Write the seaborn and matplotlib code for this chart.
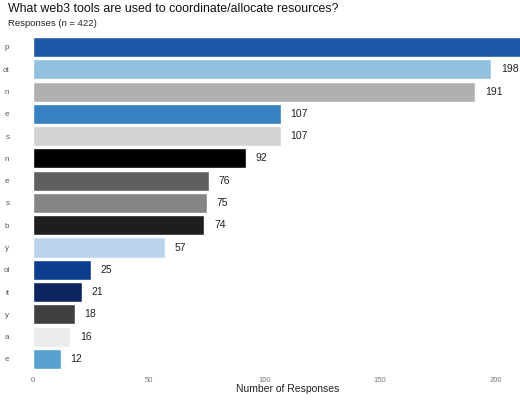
import numpy as np
import pandas as pd
import matplotlib
matplotlib.use("Agg")
import matplotlib.pyplot as plt
import seaborn as sns

# Tool labels are cut off at the left edge in the source chart; only the tail is visible
tools = ["p", "ot", "n", "e", "s", "n", "e", "s", "b", "y", "ol", "it", "y", "a", "e"]
responses = [225, 198, 191, 107, 107, 92, 76, 75, 74, 57, 25, 21, 18, 16, 12]
bar_colors = ["#1c58a5", "#92c0df", "#b0b0b0", "#3781c1", "#d2d2d2", "#000000",
              "#5f5f5f", "#858585", "#1e1e1e", "#bcd3ec", "#0d3e8e", "#0c2460",
              "#404040", "#ebebeb", "#58a0cf"]

# truncated names repeat, so each row gets its own key
df = pd.DataFrame({"row": [str(i) for i in range(len(tools))], "count": responses})

sns.set_style("white")
plt.rcParams["font.family"] = ["Liberation Sans", "DejaVu Sans"]

fig = plt.figure(figsize=(5.2, 4.0), dpi=100)
ax = fig.add_axes([33 / 520, 0.0748, 487 / 520, 0.8356])

sns.barplot(data=df, x="count", y="row", hue="row", palette=bar_colors, legend=False,
            orient="h", width=0.9, saturation=1, ax=ax)

for cont in ax.containers:
    ax.bar_label(cont, padding=7, fontsize=7.5, color="#222222")

ax.set_yticks(range(len(tools)), tools)
ax.set_xlim(0, 210.4)
ax.set_ylim(14.5, -0.5)
ax.set_xticks([0, 50, 100, 150, 200])
ax.tick_params(axis="x", labelsize=5.5, labelcolor="#777777", length=0, pad=5)
ax.tick_params(axis="y", labelsize=5.8, labelcolor="#555555", length=0, pad=17)
ax.set_ylabel("")
ax.set_xlabel("Number of Responses", fontsize=7.5, color="#222222")
ax.xaxis.set_label_coords((288 - 33) / 487, -0.042)
sns.despine(ax=ax, left=True, bottom=True)

fig.text(8 / 520, 1 - 9 / 400, "What web3 tools are used to coordinate/allocate resources?",
         fontsize=8.9, color="#111111", va="center", ha="left")
fig.text(8 / 520, 1 - 24 / 400, "Responses (n = 422)", fontsize=6.8, color="#222222",
         va="center", ha="left")

fig.savefig("out.png", dpi=100)
